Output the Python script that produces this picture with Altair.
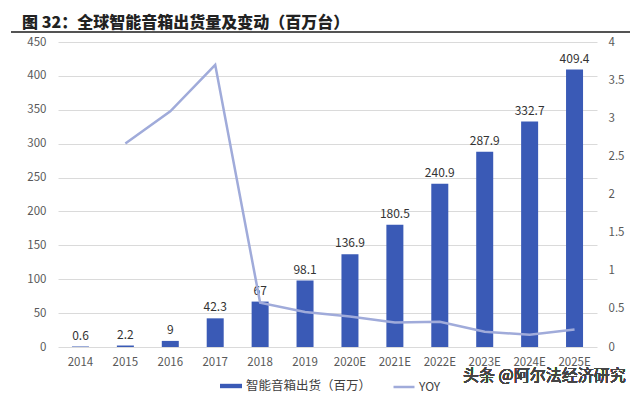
import altair as alt
import pandas as pd

years = ["2014", "2015", "2016", "2017", "2018", "2019", "2020E", "2021E",
         "2022E", "2023E", "2024E", "2025E"]
shipments = [0.6, 2.2, 9, 42.3, 67, 98.1, 136.9, 180.5, 240.9, 287.9, 332.7, 409.4]
ship_labels = ["0.6", "2.2", "9", "42.3", "67", "98.1", "136.9", "180.5",
               "240.9", "287.9", "332.7", "409.4"]
yoy = [None, 2.67, 3.09, 3.70, 0.58, 0.46, 0.40, 0.32, 0.33, 0.20, 0.16, 0.23]
left_ticks = [0, 50, 100, 150, 200, 250, 300, 350, 400, 450]
right_ticks = [0, 0.5, 1, 1.5, 2, 2.5, 3, 3.5, 4]

BAR_NAME = "智能音箱出货（百万）"
LINE_NAME = "YOY"
BAR_COLOR = "#3A5AB6"
LINE_COLOR = "#A0ABDA"
FONT = "Noto Sans CJK SC"

df = pd.DataFrame({"year": years, "ship": shipments, "label": ship_labels, "yoy": yoy})
df["s1"] = BAR_NAME
df["s2"] = LINE_NAME

W, H = 539, 305

x_enc = alt.X("year:N", sort=years, title=None,
              scale=alt.Scale(paddingInner=0, paddingOuter=0),
              axis=alt.Axis(labelAngle=0, ticks=False, domain=False, labelPadding=9,
                            labelFontSize=11.5, labelColor="#595959", labelFont=FONT))

y_left = alt.Y("ship:Q", title=None,
               scale=alt.Scale(domain=[0, 450]),
               axis=alt.Axis(values=left_ticks, ticks=False, domain=False,
                             labelPadding=12, labelFontSize=11.5, labelColor="#595959",
                             labelFont=FONT, gridColor="#DADADA", gridWidth=1))

base = alt.Chart(df)

bars = base.mark_bar(size=17).encode(
    fill=alt.Fill("s1:N", scale=alt.Scale(domain=[BAR_NAME], range=[BAR_COLOR]),
                  legend=alt.Legend(title=None, orient="none", legendX=162, legendY=333,
                                    symbolType="M-1,-0.2H1V0.2H-1Z", symbolSize=484,
                                    symbolStrokeWidth=0, labelFont=FONT, labelFontSize=12.5,
                                    labelColor="#404040", labelOffset=4, padding=0,
                                    labelLimit=300)),
)

texts = base.mark_text(baseline="middle", dy=-11, fontSize=12, color="#333333",
                       font=FONT).encode(text="label:N")

left_layer = alt.layer(bars, texts).encode(x=x_enc, y=y_left)

line = base.transform_filter("datum.yoy != null").mark_line(
    strokeWidth=2.5, interpolate="linear").encode(
    x=alt.X("year:N", sort=years),
    y=alt.Y("yoy:Q", title=None,
            scale=alt.Scale(domain=[0, 4]),
            axis=alt.Axis(orient="right", values=right_ticks, labelExpr="datum.value",
                          ticks=False, domain=False, grid=False, labelPadding=11,
                          labelFontSize=11.5, labelColor="#595959", labelFont=FONT)),
    stroke=alt.Stroke("s2:N", scale=alt.Scale(domain=[LINE_NAME], range=[LINE_COLOR]),
                      legend=alt.Legend(title=None, orient="none", legendX=334, legendY=333,
                                        symbolType="stroke", symbolSize=441,
                                        symbolStrokeWidth=2.5, labelFont=FONT,
                                        labelFontSize=12, labelColor="#404040",
                                        labelOffset=3, padding=0)),
)

rule = base.mark_rule(color="#555555", strokeWidth=1.5).encode(
    x=alt.value(-47), x2=alt.value(572), y=alt.value(-10))

watermark = base.mark_text(align="left", baseline="middle", fontSize=16,
                           color="#444444", font=FONT).encode(
    x=alt.value(405), y=alt.value(334), text=alt.value("头条 @阿尔法经济研究"))

chart = alt.layer(left_layer, line, rule, watermark).resolve_scale(
    y="independent", fill="independent", stroke="independent"
).properties(
    width=W, height=H,
    title=alt.Title("图 32：全球智能音箱出货量及变动（百万台）", anchor="start",
                    frame="group", dx=-36, offset=0, fontSize=16, font=FONT,
                    fontWeight=900, color="#222222"),
    autosize=alt.AutoSizeParams(type="none"),
    padding={"left": 50, "top": 34, "right": 35, "bottom": 46},
).configure_view(stroke=None)

chart.save("out.html", embed_options={"renderer": "svg", "actions": False})
